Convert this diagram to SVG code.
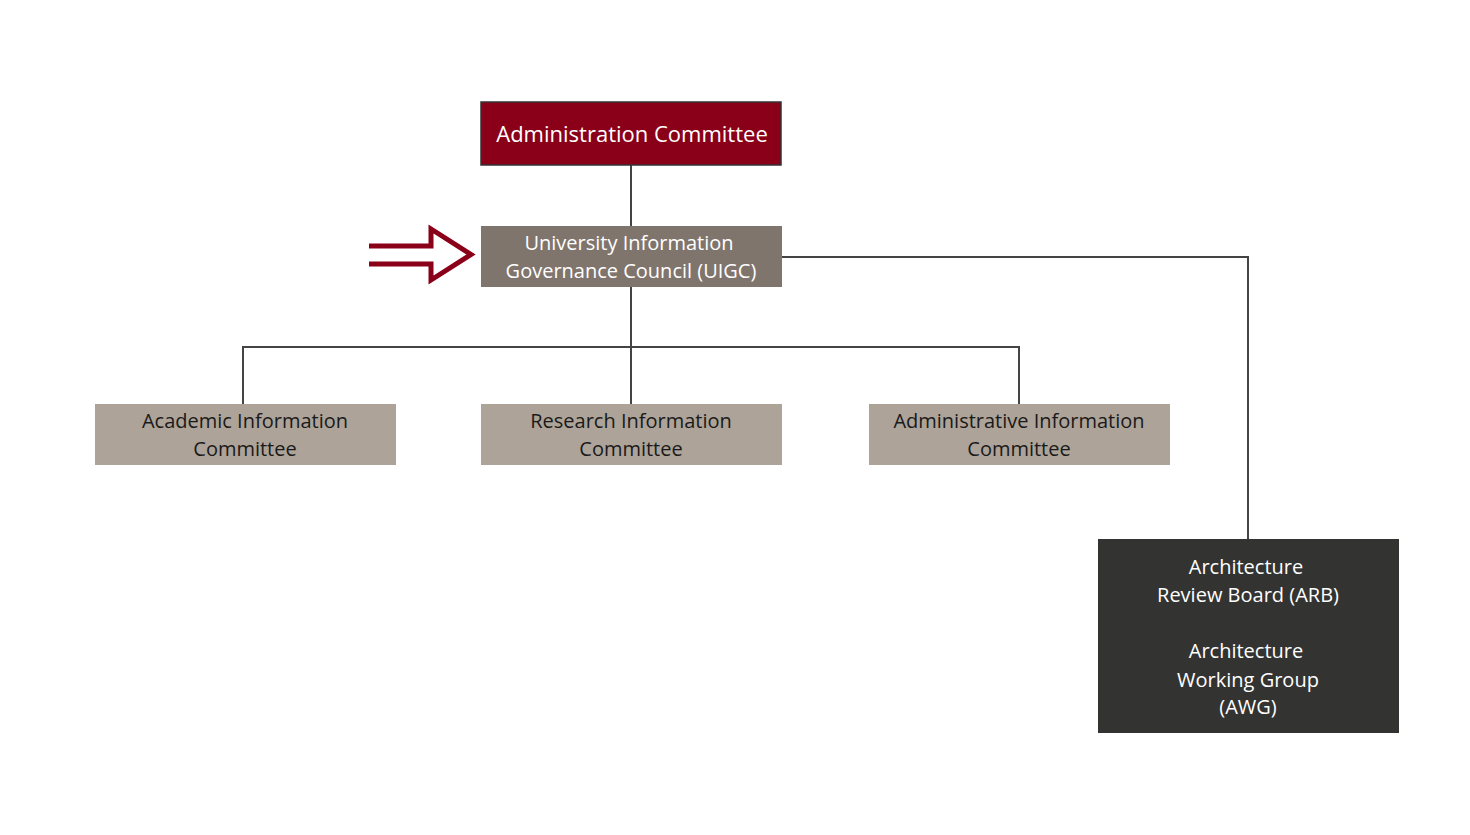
<svg xmlns="http://www.w3.org/2000/svg" width="1470" height="835" viewBox="0 0 1470 835">
<style>
text{font-family:"Open Sans","Liberation Sans",sans-serif;font-size:20px;text-anchor:middle}
.w{fill:#fff}.d{fill:#1a1a1a}
.c{stroke:#444;stroke-width:2;fill:none}
</style>
<rect width="1470" height="835" fill="#fff"/>
<g id="connectors">
<path class="c" d="M631 165V226M631 287V404M243 404V347H1019V404M782 257H1248V539"/>
</g>
<g id="arrow"><polyline points="369,246 431,246 431,229 471,254.5 431,280 431,264 369,264" fill="none" stroke="#8b0019" stroke-width="5"/></g>
<g id="admin"><rect x="481" y="102" width="300" height="63" fill="#8b0019" stroke="#333" stroke-width="1.5"/><text class="w" x="632" y="142" style="font-size:22px">Administration Committee</text></g>
<g id="uigc"><rect x="481" y="226" width="301" height="61" fill="#80756d"/><text class="w" x="629" y="250">University Information</text><text class="w" x="631" y="278">Governance Council (UIGC)</text></g>
<g id="aic"><rect x="95" y="404" width="301" height="61" fill="#ada398"/><text class="d" x="245" y="428">Academic Information</text><text class="d" x="245" y="456">Committee</text></g>
<g id="ric"><rect x="481" y="404" width="301" height="61" fill="#ada398"/><text class="d" x="631" y="428">Research Information</text><text class="d" x="631" y="456">Committee</text></g>
<g id="adic"><rect x="869" y="404" width="301" height="61" fill="#ada398"/><text class="d" x="1019" y="428">Administrative Information</text><text class="d" x="1019" y="456">Committee</text></g>
<g id="arb"><rect x="1098" y="539" width="301" height="194" fill="#333332"/>
<text class="w" x="1246" y="574">Architecture</text><text class="w" x="1248" y="602">Review Board (ARB)</text>
<text class="w" x="1246" y="658">Architecture</text><text class="w" x="1248" y="687">Working Group</text><text class="w" x="1248" y="714">(AWG)</text></g>
</svg>
